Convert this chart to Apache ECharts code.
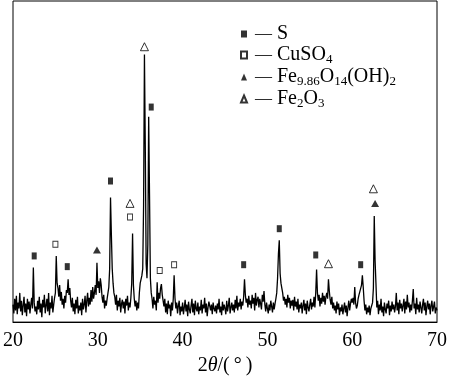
<!DOCTYPE html>
<html>
<head>
<meta charset="utf-8">
<script src="https://cdn.jsdelivr.net/npm/echarts@6/dist/echarts.min.js"></script>
<style>html,body{margin:0;padding:0;background:#fff}#c{width:450px;height:381px}</style>
</head>
<body>
<div id="c"></div>
<script>
// 2θ scan: start angle and step (degrees)
const scanStart = 20;
const scanStep = 0.1;
// Intensity (arbitrary units), 20.0–29.9°
const int20 = [18,9,24,12,27,8,20,14,30,11, 22,7,17,26,10,19,6,24,13,21, 9,18,25,14,56,20,11,16,8,22, 13,26,10,19,5,23,15,28,9,17, 24,11,30,7,20,14,27,10,18,25, 30,68,40,35,26,38,22,31,18,24, 14,27,20,33,30,44,28,35,22,15, 25,11,19,8,23,14,26,9,17,12, 20,7,24,13,18,27,10,22,30,16, 25,18,33,21,36,24,30,38,28,61];
// 30.0–39.9°
const int30 = [35,42,30,45,38,26,20,28,14,22, 17,24,30,36,55,128,90,55,40,30, 26,18,28,12,22,16,25,10,19,23, 14,21,9,24,17,27,12,20,15,25, 40,91,38,24,16,22,12,20,14,30, 40,44,48,55,120,275,180,60,45,80, 211,130,45,30,24,14,26,18,22,12, 41,20,30,24,35,39,28,22,16,24, 10,19,8,22,14,18,6,20,12,24, 48,25,14,20,9,17,22,7,16,11];
// 40.0–49.9°
const int40 = [20,8,15,23,11,18,6,21,13,9, 17,24,10,19,7,22,14,11,20,8, 16,12,23,9,18,14,25,10,19,6, 15,21,22,12,18,8,20,14,11,17, 9,19,13,24,10,16,7,21,12,18, 14,8,22,11,17,25,9,15,20,12, 18,10,23,14,27,12,20,16,24,13, 21,17,26,44,28,20,24,15,27,18, 22,14,28,19,25,12,30,17,23,26, 15,24,19,13,28,21,32,18,11,20];
// 50.0–59.9°
const int50 = [14,9,18,12,22,16,10,20,13,19, 24,30,45,70,84,50,40,35,30,22, 26,18,24,15,28,20,25,14,22,17, 23,12,26,16,21,13,24,10,18,14, 20,9,17,23,12,19,8,22,15,11, 18,24,13,20,16,26,15,30,54,30, 22,28,16,25,19,30,21,27,18,26, 30,24,44,32,23,18,26,14,20,12, 17,9,21,13,19,7,15,11,18,8, 14,20,10,17,6,15,22,12,19,24];
// 60.0–70.0°
const int60 = [20,25,18,36,20,14,17,24,28,30, 30,38,48,36,22,12,18,8,15,10, 17,7,14,12,20,35,109,63,40,15, 22,8,18,12,24,10,16,6,20,13, 9,19,14,22,7,17,11,21,13,18, 10,16,30,12,20,8,23,14,19,11, 17,24,9,21,13,28,15,20,10,18, 12,22,34,14,19,8,25,13,18,10, 21,15,9,18,24,12,20,7,16,22, 13,19,8,17,22,11,16,21,9,15,12];

// Phase marker positions [2θ, height]
const markS      = [[22.5,68],[26.4,57],[31.5,145],[36.3,221],[47.2,59],[51.4,96],[55.7,69],[61.0,59]];
const markCuSO4  = [[25.0,80],[33.8,108],[37.3,53],[39.0,59]];
const markFeOOH  = [[29.9,74],[62.7,122]];
const markFe2O3  = [[33.8,122],[35.5,283],[57.2,60],[62.5,137]];

const xTicks = [20,30,40,50,60,70];

const intensity = [].concat(int20, int30, int40, int50, int60);
const scanData = intensity.map((v, i) => [+(scanStart + i * scanStep).toFixed(2), v]);

const FONT = '"Liberation Serif","Times New Roman",serif';
const chart = echarts.init(document.getElementById('c'), null, {renderer: 'canvas'});

const legendLabels = {
  'S': '{d|—}{n| S}',
  'CuSO4': '{d|—}{n| CuSO}{s|4}',
  'Fe9.86O14(OH)2': '{d|—}{n| Fe}{s|9.86}{n|O}{s|14}{n|(OH)}{s|2}',
  'Fe2O3': '{d|—}{n| Fe}{s|2}{n|O}{s|3}'
};

chart.setOption({
  animation: false,
  backgroundColor: '#fff',
  grid: {left: 10, right: 9, top: 1, bottom: 50, show: true, borderColor: '#000', borderWidth: 1, backgroundColor: 'transparent'},
  xAxis: {
    type: 'value', min: 20, max: 70, interval: 10,
    axisLine: {show: true, lineStyle: {color: '#000', width: 1}},
    axisTick: {show: false},
    splitLine: {show: false},
    axisLabel: {color: '#000', fontSize: 20, fontFamily: FONT, margin: 9,
      formatter: v => xTicks.includes(v) ? String(v) : ''},
    name: '{n|2}{i|θ}{n|/(\u2009°\u2009)}',
    nameLocation: 'middle', nameGap: 30,
    nameTextStyle: {rich: {
      n: {fontSize: 20, fontFamily: FONT, color: '#000'},
      i: {fontSize: 20, fontFamily: FONT, fontStyle: 'italic', color: '#000'}
    }}
  },
  yAxis: {type: 'value', min: 0, max: 330, show: false},
  legend: {
    orient: 'vertical', left: 240, top: 24, itemGap: 0, padding: 0,
    itemWidth: 6, itemHeight: 7,
    data: ['S','CuSO4','Fe9.86O14(OH)2','Fe2O3'],
    formatter: name => legendLabels[name],
    textStyle: {
      color: '#000', fontFamily: FONT, fontSize: 20,
      rich: {
        d: {fontSize: 17, fontFamily: FONT, color: '#000', lineHeight: 21, padding: [0, 0, 0, 3]},
        n: {fontSize: 20, fontFamily: FONT, color: '#000', lineHeight: 21},
        s: {fontSize: 13, fontFamily: FONT, color: '#000', lineHeight: 21, padding: [9, 0, 0, 0]}
      }
    }
  },
  series: [
    {type: 'line', name: 'scan', data: scanData, showSymbol: false, symbol: 'none',
     lineStyle: {color: '#000', width: 1.3}, silent: true, z: 2},
    {type: 'scatter', name: 'S', data: markS, symbol: 'rect', symbolSize: [5, 7],
     itemStyle: {color: '#000'}, z: 5},
    {type: 'scatter', name: 'CuSO4', data: markCuSO4, symbol: 'rect', symbolSize: [5, 6],
     itemStyle: {color: '#fff', borderColor: '#000', borderWidth: 1}, z: 5},
    {type: 'scatter', name: 'Fe9.86O14(OH)2', data: markFeOOH, symbol: 'triangle', symbolSize: [8, 7],
     itemStyle: {color: '#000'}, z: 5},
    {type: 'scatter', name: 'Fe2O3', data: markFe2O3, symbol: 'triangle', symbolSize: [8, 8],
     itemStyle: {color: '#fff', borderColor: '#000', borderWidth: 1}, z: 5}
  ]
});
</script>
</body>
</html>
